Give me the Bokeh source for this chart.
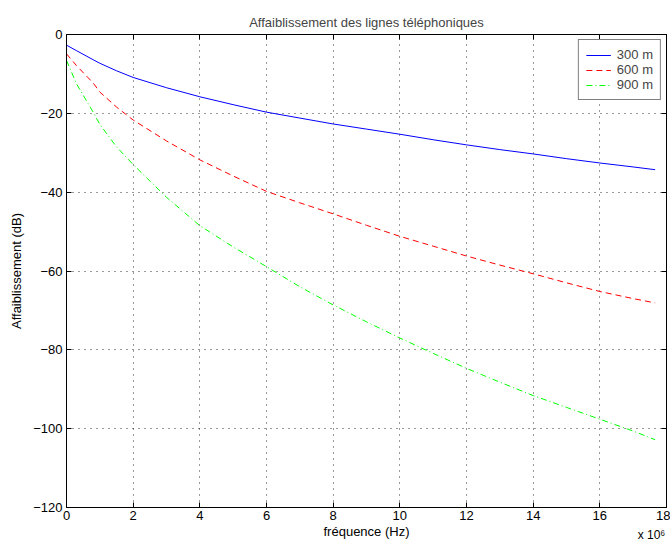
from bokeh.plotting import figure
from bokeh.models import LinearAxis, Range1d, FixedTicker, Legend, LegendItem
from bokeh.embed import file_html
from bokeh.resources import INLINE

# ---- data (frequency in units of 10^6 Hz, attenuation in dB) ----
freq = [0, 0.3, 0.8, 1, 1.5, 2, 3, 4, 5, 6, 7, 8, 9, 10, 11, 12, 13, 14, 15, 16, 17, 17.66]
att_300 = [-2.7, -4.1, -6.4, -7.3, -9.2, -10.9, -13.5, -15.8, -17.8, -19.7, -21.2, -22.7,
           -24.0, -25.3, -26.7, -28.0, -29.2, -30.3, -31.5, -32.6, -33.6, -34.3]
att_600 = [-4.9, -7.9, -12.3, -14.6, -18.4, -21.7, -27.0, -31.8, -35.9, -39.8, -42.7, -45.5,
           -48.4, -51.2, -53.7, -56.2, -58.5, -60.7, -63.0, -65.2, -67.0, -68.1]
att_900 = [-6.6, -12.5, -19.7, -22.8, -28.5, -33.0, -41.3, -48.5, -53.9, -58.9, -64.0, -68.6,
           -72.9, -77.0, -80.9, -84.7, -88.2, -91.6, -94.6, -97.6, -100.6, -102.8]
series_names = ["300 m", "600 m", "900 m"]
x_ticks = [0, 2, 4, 6, 8, 10, 12, 14, 16, 18]
y_ticks = [-120, -100, -80, -60, -40, -20, 0]
y_tick_labels = ["\u2212120", "\u2212100", "\u221280", "\u221260", "\u221240", "\u221220", "0"]
x_scale_pos = 17.55
x_scale_text = "x 10\u2076"

FONT = "Liberation Sans"
FS = "13px"

p = figure(width=670, height=545, output_backend="svg", toolbar_location=None,
           x_range=Range1d(0, 18), y_range=Range1d(-120, 0),
           min_border_left=66, min_border_right=4, min_border_top=34, min_border_bottom=38,
           background_fill_color="white", border_fill_color="white")

p.title.text = "Affaiblissement des lignes t\u00e9l\u00e9phoniques"
p.title.align = "center"
p.title.text_font = FONT
p.title.text_font_size = "13px"
p.title.text_font_style = "normal"
p.title.standoff = 10

p.outline_line_color = "black"
p.outline_line_width = 1

r1 = p.line(freq, att_300, line_color="#0000ff", line_width=1)
r2 = p.line(freq, att_600, line_color="#ff0000", line_width=1, line_dash="6 4")
r3 = p.line(freq, att_900, line_color="#00ff00", line_width=1, line_dash="6 3 1 3")

for ax in [p.xaxis[0], p.yaxis[0]]:
    ax.major_tick_in = 5
    ax.major_tick_out = 0
    ax.minor_tick_in = 0
    ax.minor_tick_out = 0
    ax.axis_line_color = "black"
    ax.major_tick_line_color = "black"
    ax.major_label_text_font = FONT
    ax.major_label_text_font_size = FS
    ax.major_label_text_color = "black"
    ax.axis_label_text_font = FONT
    ax.axis_label_text_font_size = FS
    ax.axis_label_text_font_style = "normal"
    ax.axis_label_text_color = "black"

p.xaxis[0].ticker = FixedTicker(ticks=x_ticks)
p.yaxis[0].ticker = FixedTicker(ticks=y_ticks)
p.yaxis[0].major_label_overrides = {t: s for t, s in zip(y_ticks, y_tick_labels)}
p.xaxis[0].axis_label = "fr\u00e9quence (Hz)"
p.yaxis[0].axis_label = "Affaiblissement (dB)"
p.xaxis[0].major_label_standoff = 3
p.xaxis[0].axis_label_standoff = 1
p.yaxis[0].major_label_standoff = 4
p.yaxis[0].axis_label_standoff = 6

# "x 10^6" multiplier shown as the single label of an extra bottom axis
scale_ax = LinearAxis(ticker=FixedTicker(ticks=[x_scale_pos]),
                      major_label_overrides={x_scale_pos: x_scale_text},
                      major_label_text_font=FONT, major_label_text_font_size="12px",
                      major_label_text_color="black",
                      major_tick_in=0, major_tick_out=0, minor_tick_in=0, minor_tick_out=0,
                      major_tick_line_color=None, minor_tick_line_color=None,
                      axis_line_color=None, major_label_standoff=-14)
p.add_layout(scale_ax, "below")

# box ticks on top and right (no labels)
top_ax = LinearAxis(ticker=FixedTicker(ticks=x_ticks),
                    major_label_overrides={t: "" for t in x_ticks},
                    major_tick_in=5, major_tick_out=0, minor_tick_in=0, minor_tick_out=0,
                    major_label_standoff=0, axis_line_color="black")
right_ax = LinearAxis(ticker=FixedTicker(ticks=y_ticks),
                      major_label_overrides={t: "" for t in y_ticks},
                      major_tick_in=5, major_tick_out=0, minor_tick_in=0, minor_tick_out=0,
                      major_label_standoff=0, axis_line_color="black")
p.add_layout(top_ax, "above")
p.add_layout(right_ax, "right")

for g in [p.xgrid[0], p.ygrid[0]]:
    g.grid_line_color = "black"
    g.grid_line_dash = "1 5"
    g.grid_line_width = 1
    g.grid_line_alpha = 0.8
p.xgrid[0].ticker = FixedTicker(ticks=x_ticks)
p.ygrid[0].ticker = FixedTicker(ticks=y_ticks)

legend = Legend(items=[LegendItem(label=n, renderers=[r]) for n, r in zip(series_names, [r1, r2, r3])],
                location="top_right", margin=5, padding=7, spacing=0,
                glyph_width=25, glyph_height=12, label_height=12, label_standoff=6,
                label_text_font=FONT, label_text_font_size=FS,
                border_line_color="black", border_line_width=1, background_fill_alpha=1)
p.add_layout(legend, "center")

open("out.html", "w").write(file_html(p, INLINE))
